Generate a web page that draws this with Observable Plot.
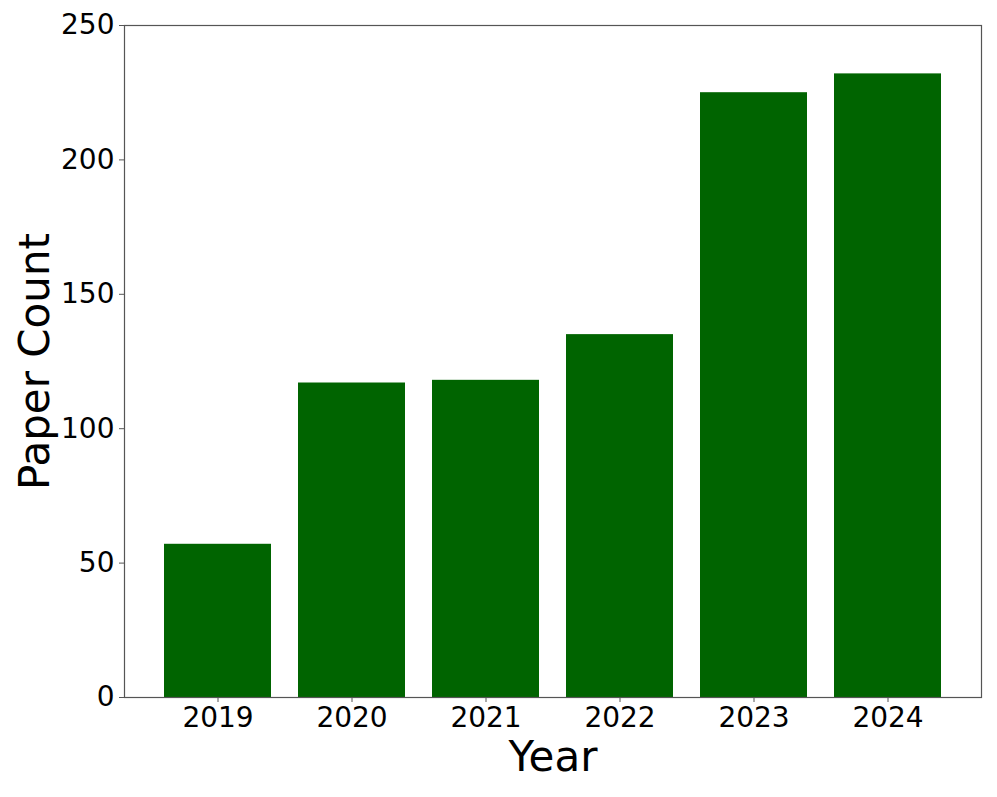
<!DOCTYPE html>
<html>
<head>
<meta charset="utf-8">
<script src="https://cdn.jsdelivr.net/npm/d3@7"></script>
<script src="https://cdn.jsdelivr.net/npm/@observablehq/plot@0.6"></script>
<style>
  html, body { margin: 0; padding: 0; background: white; }
</style>
</head>
<body>
<div id="chart"></div>
<script>
const years = ["2019", "2020", "2021", "2022", "2023", "2024"];
const counts = [57, 117, 118, 135, 225, 232];
const yTicks = [0, 50, 100, 150, 200, 250];

const data = years.map((y, i) => ({year: y, count: counts[i]}));

const chart = Plot.plot({
  width: 997,
  height: 797,
  marginLeft: 124,
  marginRight: 16,
  marginTop: 25,
  marginBottom: 100,
  style: {fontFamily: "DejaVu Sans", background: "white", color: "black"},
  x: {domain: years, paddingInner: 0.2, paddingOuter: 0.29, label: null},
  y: {domain: [0, 250], label: null},
  marks: [
    Plot.barY(data, {x: "year", y: "count", fill: "#006400"}),
    Plot.frame({stroke: "#555", strokeWidth: 1.2}),
    Plot.axisX({tickSize: 5, tickPadding: 5, fontSize: 28, stroke: "#555", fill: "black", label: null}),
    Plot.axisY({ticks: yTicks, tickSize: 5, tickPadding: 5, fontSize: 28, stroke: "#555", fill: "black", label: null}),
    Plot.text(["Year"], {frameAnchor: "bottom", lineAnchor: "middle", textAnchor: "middle", dy: 60, fontSize: 42, fill: "black"}),
    Plot.text(["Paper Count"], {frameAnchor: "left", textAnchor: "middle", lineAnchor: "middle", dx: -89, rotate: -90, fontSize: 42, fill: "black"})
  ]
});
document.getElementById("chart").appendChild(chart);
</script>
</body>
</html>
